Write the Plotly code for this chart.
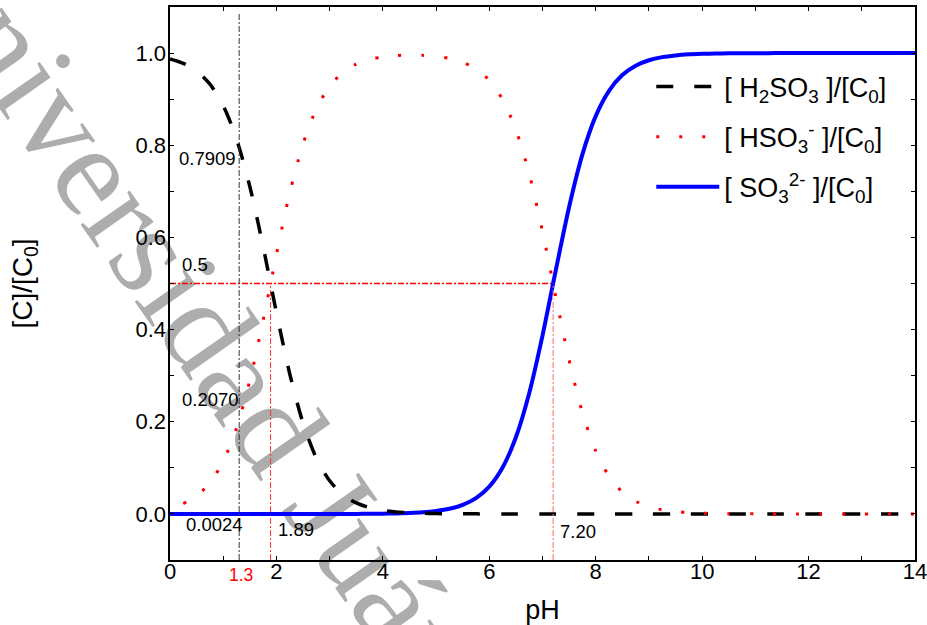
import plotly.graph_objects as go

# ---------------- data ----------------
ph = [0.0, 0.25, 0.5, 0.75, 1.0, 1.25, 1.5, 1.75, 2.0, 2.25, 2.5, 2.75, 3.0, 3.25,
      3.5, 3.75, 4.0, 4.25, 4.5, 4.75, 5.0, 5.25, 5.5, 5.75, 6.0, 6.25, 6.5, 6.75,
      7.0, 7.25, 7.5, 7.75, 8.0, 8.25, 8.5, 8.75, 9.0, 9.25, 9.5, 9.75, 10.0, 10.25,
      10.5, 10.75, 11.0, 11.25, 11.5, 11.75, 12.0, 12.25, 12.5, 12.75, 13.0, 13.25,
      13.5, 13.75, 14.0]

h2so3 = [0.9873, 0.9776, 0.9609, 0.9325, 0.8859, 0.8136, 0.7105, 0.5799, 0.4370,
         0.3039, 0.1971, 0.1213, 0.0720, 0.0418, 0.0240, 0.0136, 0.0077, 0.0043,
         0.0025, 0.0014, 0.0008, 0.0004, 0.0002, 0.0001,
         0, 0, 0, 0, 0, 0, 0, 0, 0, 0, 0, 0, 0, 0, 0, 0, 0, 0, 0, 0, 0, 0, 0, 0,
         0, 0, 0, 0, 0, 0, 0, 0, 0]

hso3 = [0.0127, 0.0224, 0.0391, 0.0675, 0.1141, 0.1864, 0.2895, 0.4201, 0.5630,
        0.6961, 0.8029, 0.8787, 0.9280, 0.9582, 0.9760, 0.9860, 0.9917, 0.9946,
        0.9955, 0.9951, 0.9929, 0.9885, 0.9802, 0.9656, 0.9407, 0.8991, 0.8337,
        0.7381, 0.6131, 0.4713, 0.3339, 0.2198, 0.1368, 0.0818, 0.0477, 0.0274,
        0.0156, 0.0088, 0.0050, 0.0028, 0.0016, 0.0009, 0.0005, 0.0003, 0.0002,
        0.0001, 0, 0, 0, 0, 0, 0, 0, 0, 0, 0, 0]

so3 = [0, 0, 0, 0, 0, 0, 0, 0, 0, 0, 0, 0, 0, 0, 0,
       0.0004, 0.0006, 0.0011, 0.0020, 0.0035, 0.0063, 0.0111, 0.0196, 0.0343,
       0.0593, 0.1009, 0.1663, 0.2619, 0.3869, 0.5287, 0.6661, 0.7802, 0.8632,
       0.9182, 0.9523, 0.9726, 0.9844, 0.9912, 0.9950, 0.9972, 0.9984, 0.9991,
       0.9995, 0.9997, 0.9998, 0.9999,
       1.0, 1.0, 1.0, 1.0, 1.0, 1.0, 1.0, 1.0, 1.0, 1.0, 1.0]

series_names = ["[ H<sub>2</sub>SO<sub>3</sub> ]/[C<sub>0</sub>]",
                "[ HSO<sub>3</sub><sup>-</sup> ]/[C<sub>0</sub>]",
                "[ SO<sub>3</sub><sup>2-</sup> ]/[C<sub>0</sub>]"]

x_tickvals = [0, 2, 4, 6, 8, 10, 12, 14]
x_ticktext = ["0", "2", "4", "6", "8", "10", "12", "14"]
y_tickvals = [0.0, 0.2, 0.4, 0.6, 0.8, 1.0]
y_ticktext = ["0.0", "0.2", "0.4", "0.6", "0.8", "1.0"]

pka1 = 1.89
pka2 = 7.20
ph_mark = 1.3
half = 0.5
x_lo, x_hi = 0, 14
y_lo, y_hi = -0.1, 1.1
mark_top = 1.085

# value labels (text, x, y)
label_texts = ["0.7909", "0.5", "0.2070", "0.0024", "1.89", "7.20"]
label_x = [0.70, 0.47, 0.77, 0.83, 2.37, 7.67]
label_y = [0.772, 0.541, 0.248, -0.022, -0.033, -0.039]

FONT = "Liberation Sans, Arial, sans-serif"
DASHDOT = "6px,2px,2px,2px"

fig = go.Figure()

# guide lines
guide = dict(mode="lines", showlegend=False, hoverinfo="skip")
fig.add_trace(go.Scatter(x=[ph_mark, ph_mark], y=[y_lo, mark_top], xaxis="x", yaxis="y2",
                         line=dict(color="#333333", width=1, dash=DASHDOT), **guide))
fig.add_trace(go.Scatter(x=[0, pka2], y=[half, half],
                         line=dict(color="#ff0000", width=1.3, dash=DASHDOT), **guide))
fig.add_trace(go.Scatter(x=[pka1, pka1], y=[y_lo, half],
                         line=dict(color="#ff3030", width=1, dash=DASHDOT), **guide))
fig.add_trace(go.Scatter(x=[pka2, pka2], y=[y_lo, half], xaxis="x2", yaxis="y",
                         line=dict(color="#ff6a6a", width=1, dash=DASHDOT), **guide))

# curves
fig.add_trace(go.Scatter(x=ph, y=so3, mode="lines", name=series_names[2], legendrank=3,
                         legendgroup="c",
                         line=dict(color="#0000ff", width=4, shape="spline", smoothing=0.8)))
fig.add_trace(go.Scatter(x=ph, y=h2so3, mode="lines", name=series_names[0], legendrank=1,
                         legendgroup="a",
                         line=dict(color="black", width=3.5, dash="17px,21px", shape="spline", smoothing=0.8)))
fig.add_trace(go.Scatter(x=ph[1:], y=hso3[1:], mode="lines", name=series_names[1], legendrank=2,
                         legendgroup="b",
                         line=dict(color="#ff0000", width=3, dash="3px,20px", shape="spline", smoothing=0.8)))

for t, lx, ly in zip(label_texts, label_x, label_y):
    fig.add_annotation(x=lx, y=ly, text=t, showarrow=False,
                       font=dict(family=FONT, size=18.5, color="black"),
                       xanchor="center", yanchor="middle")

fig.add_annotation(x=ph_mark + 0.03, xref="x", y=-0.027, yref="paper", text=str(ph_mark),
                   showarrow=False, font=dict(family=FONT, size=17.5, color="#ff0000"),
                   xanchor="center", yanchor="middle")

# watermark behind the data
fig.add_shape(type="line", xref="paper", yref="paper",
              x0=0.0819, y0=0.401, x1=0.0829, y1=0.400, line=dict(width=0),
              layer="below",
              label=dict(text="Universidad Juárez", textangle=55, textposition="middle",
                         xanchor="center", yanchor="middle", padding=0,
                         font=dict(family="Liberation Serif, Times New Roman, serif",
                                   size=130, color="#adadad")))

frame = dict(showline=True, linewidth=2, linecolor="black", mirror="allticks",
             showgrid=False, zeroline=False, ticks="inside", ticklen=4,
             tickwidth=1, tickcolor="black", showticklabels=False)
labels_only = dict(showline=False, showgrid=False, zeroline=False, ticks="",
                   tickfont=dict(family=FONT, size=22, color="black"),
                   ticklabeloverflow="allow", tickmode="array")

fig.update_layout(
    xaxis=dict(range=[x_lo, x_hi], tickmode="array", tickvals=x_tickvals,
               minor=dict(tickmode="linear", tick0=0, dtick=1, ticks="inside", ticklen=4,
                          tickcolor="black"),
               title=dict(text="pH", font=dict(family=FONT, size=27, color="black"), standoff=42),
               **frame),
    yaxis=dict(range=[y_lo, y_hi], tickmode="array", tickvals=y_tickvals,
               minor=dict(tickmode="linear", tick0=0, dtick=0.1, ticks="inside", ticklen=4,
                          tickcolor="black"),
               title=dict(text="[C]/[C<sub>0</sub>]", font=dict(family=FONT, size=28, color="black"),
                          standoff=127),
               **frame),
    xaxis2=dict(range=[x_lo, x_hi], overlaying="x", anchor="free", position=0.0072, side="bottom",
                tickvals=x_tickvals, ticktext=x_ticktext, **labels_only),
    yaxis2=dict(range=[y_lo, y_hi], overlaying="y", anchor="free", position=0.0054, side="left",
                ticklabelstandoff=8,
                tickvals=y_tickvals, ticktext=y_ticktext, **labels_only),
    width=927, height=625,
    margin=dict(l=170, r=12, t=7, b=65, autoexpand=False),
    paper_bgcolor="white", plot_bgcolor="white",
    showlegend=True,
    legend=dict(x=0.646, y=0.8996, xanchor="left", yanchor="top",
                bgcolor="rgba(0,0,0,0)", borderwidth=0, itemwidth=63,
                font=dict(family=FONT, size=27, color="black"),
                tracegroupgap=12),
)

fig.write_html("out.html")
